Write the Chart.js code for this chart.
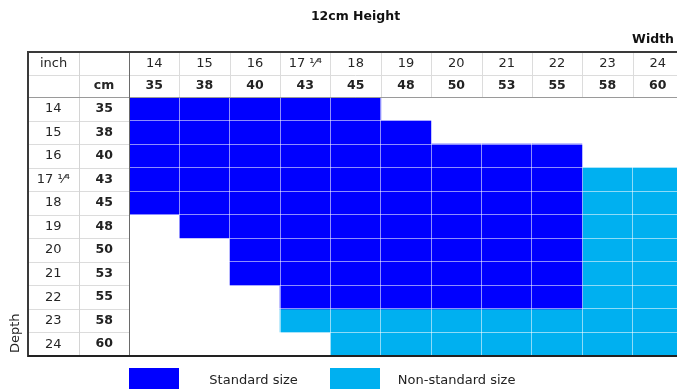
<!DOCTYPE html>
<html>
<head>
<meta charset="utf-8">
<script src="https://cdn.jsdelivr.net/npm/chart.js@4.4.1/dist/chart.umd.min.js"></script>
<style>
  html, body { margin: 0; padding: 0; background: #fff; overflow: hidden; }
  #wrap { width: 714px; height: 389px; }
</style>
</head>
<body>
<div id="wrap"><canvas id="sizeChart" width="714" height="389"></canvas></div>
<script>
const widthInch = ['14', '15', '16', '17 ¹⁄⁴', '18', '19', '20', '21', '22', '23', '24'];
const widthCm = ['35', '38', '40', '43', '45', '48', '50', '53', '55', '58', '60'];
const depthInch = ['14', '15', '16', '17 ¹⁄⁴', '18', '19', '20', '21', '22', '23', '24'];
const depthCm = ['35', '38', '40', '43', '45', '48', '50', '53', '55', '58', '60'];
const sizeNames = ['Standard size', 'Non-standard size'];
const sizeColors = ['#0000ff', '#00b0f0'];

// one row per depth, one entry per width: 0 = none, 1 = standard, 2 = non-standard
const cells = [
  [1, 1, 1, 1, 1, 0, 0, 0, 0, 0, 0],
  [1, 1, 1, 1, 1, 1, 0, 0, 0, 0, 0],
  [1, 1, 1, 1, 1, 1, 1, 1, 1, 0, 0],
  [1, 1, 1, 1, 1, 1, 1, 1, 1, 2, 2],
  [1, 1, 1, 1, 1, 1, 1, 1, 1, 2, 2],
  [0, 1, 1, 1, 1, 1, 1, 1, 1, 2, 2],
  [0, 0, 1, 1, 1, 1, 1, 1, 1, 2, 2],
  [0, 0, 1, 1, 1, 1, 1, 1, 1, 2, 2],
  [0, 0, 0, 1, 1, 1, 1, 1, 1, 2, 2],
  [0, 0, 0, 2, 2, 2, 2, 2, 2, 2, 2],
  [0, 0, 0, 0, 2, 2, 2, 2, 2, 2, 2]
];

function cellsOf(kind) {
  let out = [];
  cells.forEach((row, r) => row.forEach((v, c) => {
    if (v === kind) out.push({ x: [c, c + 1], y: depthCm[r] });
  }));
  return out;
}

const fixW = w => s => { s.width = w; };
const fixH = h => s => { s.height = h; };
const px = v => Math.round(v) + 0.5;

// table frame, corner labels, "Width"/"Depth" and the legend
const tableFrame = {
  id: 'tableFrame',
  afterDraw(chart) {
    const { ctx, chartArea: a, scales } = chart;
    const xs = scales.x, ys = scales.y;
    const top = scales.xInch.top, left = scales.yInch.left;
    const midRow = scales.xCm.top, midCol = scales.yInch.right;
    const colX = [];
    for (let c = 0; c <= widthCm.length; c++) colX.push(xs.getPixelForValue(c));
    const rowY = [];
    for (let r = 0; r <= depthCm.length; r++) rowY.push(ys.getPixelForValue(r - 0.5));

    const line = (x1, y1, x2, y2, color, w) => {
      ctx.strokeStyle = color;
      ctx.lineWidth = w;
      ctx.beginPath();
      ctx.moveTo(x1, y1);
      ctx.lineTo(x2, y2);
      ctx.stroke();
    };

    ctx.save();
    colX.forEach(x => line(px(x), top, px(x), a.top, '#dcdcdc', 1));
    line(left, px(midRow), a.right, px(midRow), '#dcdcdc', 1);
    rowY.forEach(y => line(left, px(y), a.left, px(y), '#dcdcdc', 1));
    line(px(midCol), top, px(midCol), a.bottom, '#d4d4d4', 1);

    line(left, px(a.top), a.right, px(a.top), '#9a9a9a', 1);
    line(px(a.left), top, px(a.left), a.bottom, '#6a6a6a', 1);

    line(left, top, a.right, top, '#3a3a3a', 2);
    line(left, top - 1, left, a.bottom + 1, '#3a3a3a', 2);
    line(left, a.bottom, a.right, a.bottom, '#222', 2);

    ctx.fillStyle = '#262626';
    ctx.textBaseline = 'middle';
    ctx.textAlign = 'center';
    ctx.font = "13px 'DejaVu Sans'";
    ctx.fillText('inch', (left + midCol) / 2, (top + midRow) / 2);
    ctx.font = "bold 12.5px 'DejaVu Sans'";
    ctx.fillText('cm', (midCol + a.left) / 2, (midRow + a.top) / 2);

    ctx.fillStyle = '#111';
    ctx.textAlign = 'right';
    ctx.fillText('Width', a.right - 9, top - 12);

    ctx.fillStyle = '#262626';
    ctx.font = "13px 'DejaVu Sans'";
    ctx.save();
    ctx.translate(16, a.bottom - 3);
    ctx.rotate(-Math.PI / 2);
    ctx.textAlign = 'left';
    ctx.fillText('Depth', 0, 0);
    ctx.restore();

    // legend
    const legendCols = [[0, 30], [4, 17]];
    chart.data.datasets.forEach((ds, i) => {
      const [c, gap] = legendCols[i];
      ctx.fillStyle = ds.backgroundColor;
      ctx.fillRect(Math.round(colX[c]), a.bottom + 12, Math.round(colX[c + 1] - colX[c]), 24);
      ctx.fillStyle = '#222';
      ctx.textAlign = 'left';
      ctx.fillText(ds.label, colX[c + 1] + gap, a.bottom + 25);
    });
    ctx.restore();
  }
};

Chart.defaults.font.family = "'DejaVu Sans', sans-serif";
Chart.defaults.font.size = 13;
Chart.defaults.color = '#262626';

new Chart(document.getElementById('sizeChart'), {
  type: 'bar',
  data: {
    datasets: [
      { label: sizeNames[0], data: cellsOf(1), backgroundColor: sizeColors[0] },
      { label: sizeNames[1], data: cellsOf(2), backgroundColor: sizeColors[1] }
    ]
  },
  options: {
    indexAxis: 'y',
    responsive: false,
    animation: false,
    devicePixelRatio: 1,
    layout: { padding: { left: 28, right: 31, top: 0, bottom: 33 } },
    datasets: {
      bar: {
        xAxisID: 'x',
        yAxisID: 'y',
        grouped: false,
        barPercentage: 1,
        categoryPercentage: 1,
        borderWidth: 0
      }
    },
    scales: {
      x: { type: 'linear', display: false, min: 0, max: widthCm.length },
      xCm: {
        type: 'category', position: 'top', labels: widthCm, offset: true, weight: 0,
        grid: { offset: true, color: 'rgba(255,255,255,0.55)', drawTicks: false, z: 1 },
        border: { display: false },
        ticks: { font: { size: 12.5, weight: 'bold' }, color: '#222', padding: 3.5, maxRotation: 0, autoSkip: false },
        afterFit: fixH(22)
      },
      xInch: {
        type: 'category', position: 'top', labels: widthInch, offset: true, weight: 1,
        grid: { display: false, drawTicks: false },
        border: { display: false },
        ticks: { padding: 3.2, maxRotation: 0, autoSkip: false },
        afterFit: fixH(23)
      },
      y: {
        type: 'category', position: 'left', labels: depthCm, offset: true, weight: 0,
        grid: { offset: true, color: 'rgba(255,255,255,0.55)', drawTicks: false, z: 1 },
        border: { display: false },
        ticks: { font: { size: 12.5, weight: 'bold' }, color: '#222', crossAlign: 'center', padding: 16, autoSkip: false },
        afterFit: fixW(50)
      },
      yInch: {
        type: 'category', position: 'left', labels: depthInch, offset: true, weight: 1,
        grid: { display: false, drawTicks: false },
        border: { display: false },
        ticks: { crossAlign: 'center', padding: 9, autoSkip: false },
        afterFit: fixW(51)
      }
    },
    plugins: {
      legend: { display: false },
      tooltip: { enabled: false },
      title: {
        display: true,
        text: '12cm Height',
        color: '#111',
        font: { size: 12.5, weight: 'bold' },
        padding: { top: 9.5, bottom: 27.5 }
      }
    }
  },
  plugins: [tableFrame]
});
</script>
</body>
</html>
